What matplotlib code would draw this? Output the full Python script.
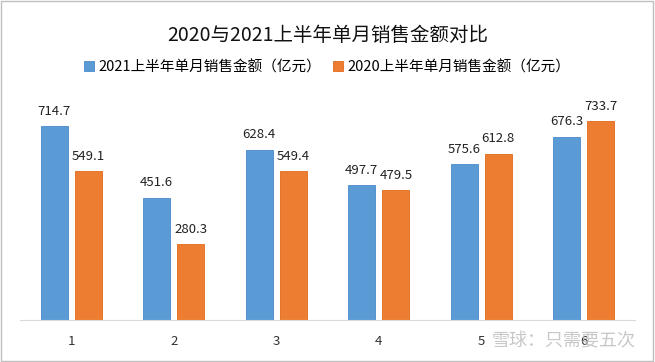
import numpy as np
import matplotlib
matplotlib.use('Agg')
import matplotlib.pyplot as plt
from matplotlib.patches import Rectangle

plt.rcParams['font.family'] = ['Noto Sans CJK SC', 'DejaVu Sans']

# 数据
months = ['1', '2', '3', '4', '5', '6']
sales_2021 = [714.7, 451.6, 628.4, 497.7, 575.6, 676.3]
sales_2020 = [549.1, 280.3, 549.4, 479.5, 612.8, 733.7]
label_2021 = '2021上半年单月销售金额（亿元）'
label_2020 = '2020上半年单月销售金额（亿元）'
title = '2020与2021上半年单月销售金额对比'

blue = '#5B9BD5'
orange = '#ED7D31'

fig = plt.figure(figsize=(6.55, 3.62), dpi=100)
ax = fig.add_axes([20 / 655, 1 - 320 / 362, 615 / 655, 217 / 362])

x = np.arange(len(months))
w = 0.263
b1 = ax.bar(x - 0.167, sales_2021, w, color=blue, edgecolor='#4A8ACB', linewidth=0.6, label=label_2021)
b2 = ax.bar(x + 0.167, sales_2020, w, color=orange, edgecolor='#E06A1B', linewidth=0.6, label=label_2020)

for bars, vals in [(b1, sales_2021), (b2, sales_2020)]:
    for r, v in zip(bars, vals):
        ax.annotate('%.1f' % v, (r.get_x() + r.get_width() / 2, r.get_height()),
                    xytext=(0, 6), textcoords='offset points', ha='center', va='bottom',
                    fontsize=9.5, color='#222222')

ax.set_xlim(-0.5, 5.5)
ax.set_ylim(0, 800)
ax.set_xticks(x)
ax.set_xticklabels(months, fontsize=9.5, color='#333333')
ax.tick_params(axis='x', length=0, pad=11)
ax.set_yticks([])
for s in ['top', 'right', 'left']:
    ax.spines[s].set_visible(False)
ax.spines['bottom'].set_color('#D9D9D9')

fig.text(0.5, 1 - 35 / 362, title, ha='center', va='center', fontsize=14, color='#111111')
fig.legend(handles=[b1, b2], loc='center', bbox_to_anchor=(0.5, 1 - 67 / 362), ncol=2,
           frameon=False, fontsize=10.5, handlelength=0.7, handleheight=0.7,
           handletextpad=0.3, columnspacing=0.8)

# 水印
fig.text(0.97, 1 - 341 / 362, '雪球：只需要五次', ha='right', va='center',
         fontsize=13, color='#BBBBBB', alpha=0.8)

fig.patches.append(Rectangle((0.002, 0.003), 0.995, 0.994, transform=fig.transFigure,
                             fill=False, edgecolor='#BFBFBF', linewidth=1))

fig.savefig('out.png', dpi=100)
